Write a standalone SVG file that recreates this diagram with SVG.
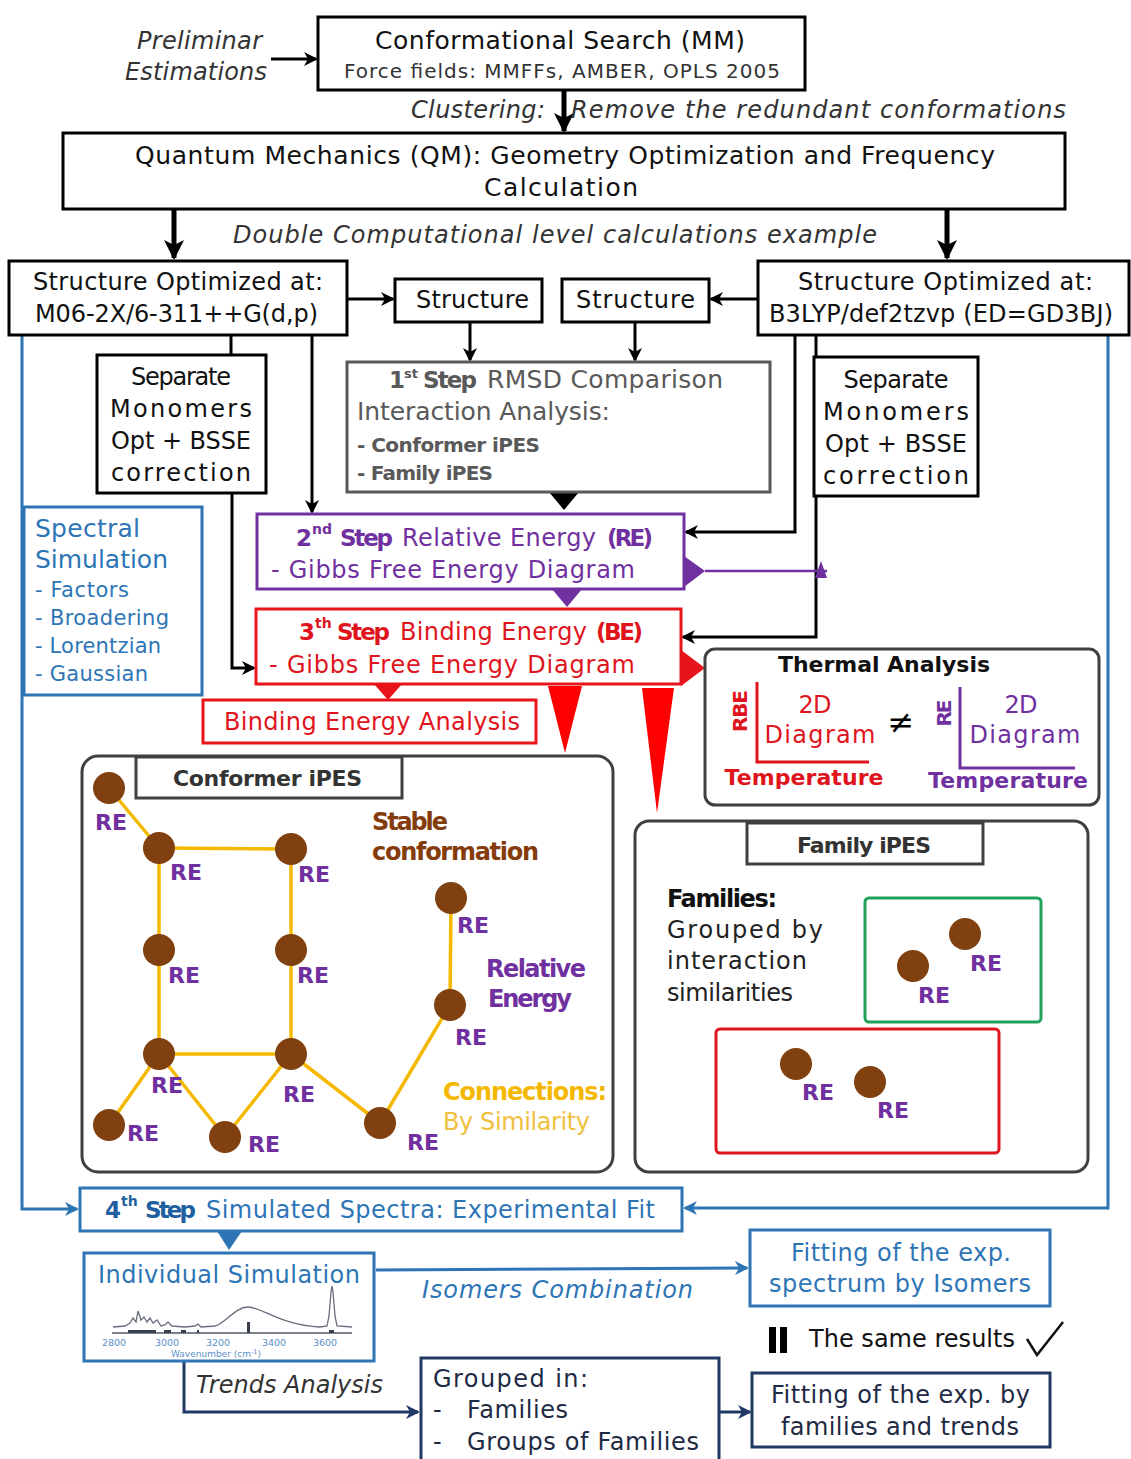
<svg xmlns="http://www.w3.org/2000/svg" width="1131" height="1459" viewBox="0 0 1131 1459">
<defs>
<style>
text{font-family:"DejaVu Sans","Liberation Sans",sans-serif;}
.i{font-style:italic;}
.b{font-weight:bold;}
.box{fill:#fff;stroke:#000;stroke-width:3;}
.k{fill:none;stroke:#000;stroke-width:3;}
.bl{fill:none;stroke:#2e75b6;stroke-width:3;}
.nv{fill:none;stroke:#1f3864;stroke-width:3;}
.edge{stroke:#f5b800;stroke-width:3.5;fill:none;}
.node{fill:#80400f;}
.re{fill:#7030a0;font-weight:bold;font-size:22px;}
.pu{fill:#7030a0;}
.rd{fill:#e0141c;}
.bt{fill:#2e75b6;}
.nt{fill:#1f2a44;}
.gt{fill:#595959;}
</style>
<marker id="ak" markerUnits="userSpaceOnUse" markerWidth="14" markerHeight="14" refX="12" refY="7" orient="auto"><path d="M0,0 L14,7 L0,14 L4,7 z" fill="#000"/></marker>
<marker id="akT" markerUnits="userSpaceOnUse" markerWidth="20" markerHeight="20" refX="18" refY="10" orient="auto"><path d="M0,0 L20,10 L0,20 L5,10 z" fill="#000"/></marker>
<marker id="ab" markerUnits="userSpaceOnUse" markerWidth="14" markerHeight="14" refX="12" refY="7" orient="auto"><path d="M0,0 L14,7 L0,14 L4,7 z" fill="#2e75b6"/></marker>
<marker id="an" markerUnits="userSpaceOnUse" markerWidth="14" markerHeight="14" refX="12" refY="7" orient="auto"><path d="M0,0 L14,7 L0,14 L4,7 z" fill="#1f3864"/></marker>
<marker id="abr" markerUnits="userSpaceOnUse" markerWidth="12" markerHeight="12" refX="10" refY="6" orient="auto"><path d="M0,0 L12,6 L0,12 L3,6 z" fill="#843c0c"/></marker>
<marker id="apu" markerUnits="userSpaceOnUse" markerWidth="12" markerHeight="12" refX="10" refY="6" orient="auto"><path d="M0,0 L12,6 L0,12 L3,6 z" fill="#7030a0"/></marker>
<marker id="ay" markerUnits="userSpaceOnUse" markerWidth="12" markerHeight="12" refX="10" refY="6" orient="auto"><path d="M0,0 L12,6 L0,12 L3,6 z" fill="#f5b800"/></marker>
</defs>
<rect width="1131" height="1459" fill="#fff"/>

<g id="connectors">
<path d="M271,59 H316" class="k" marker-end="url(#ak)"/>
<path d="M564,90 V131" fill="none" stroke="#000" stroke-width="5" marker-end="url(#akT)"/>
<path d="M174,209 V258" fill="none" stroke="#000" stroke-width="5" marker-end="url(#akT)"/>
<path d="M947,209 V258" fill="none" stroke="#000" stroke-width="5" marker-end="url(#akT)"/>
<path d="M347,299 H393" class="k" marker-end="url(#ak)"/>
<path d="M758,299 H711" class="k" marker-end="url(#ak)"/>
<path d="M470,322 V360" class="k" marker-end="url(#ak)"/>
<path d="M635,322 V360" class="k" marker-end="url(#ak)"/>
<path d="M231,335 V355" class="k"/>
<path d="M232,493 V668 H254" class="k" marker-end="url(#ak)"/>
<path d="M312,335 V512" class="k" marker-end="url(#ak)"/>
<path d="M795,335 V532 H686" class="k" marker-end="url(#ak)"/>
<path d="M816,335 V357" class="k"/>
<path d="M816,496 V637 H683" class="k" marker-end="url(#ak)"/>
<path d="M22,335 V1209 H77" class="bl" marker-end="url(#ab)"/>
<path d="M1108,335 V1208 H685" class="bl" marker-end="url(#ab)"/>
<path d="M376,1270 L747,1268" class="bl" marker-end="url(#ab)"/>
<path d="M184,1361 V1412 H418" class="nv" marker-end="url(#an)"/>
<path d="M719,1412 H750" class="nv" marker-end="url(#an)"/>
<path d="M705,571 H827" stroke="#7030a0" stroke-width="2.5" fill="none"/>
<polygon points="815,578 821,561 827,578" fill="#7030a0"/>
<path d="M366,829 L317,842" stroke="#843c0c" stroke-width="3" fill="none" marker-end="url(#abr)"/>
<path d="M484,981 L472,946" stroke="#7030a0" stroke-width="3" fill="none" marker-end="url(#apu)"/>
<path d="M433,1105 L414,1080" stroke="#f5b800" stroke-width="3" fill="none" marker-end="url(#ay)"/>
<path d="M804,904 L856,921" stroke="#000" stroke-width="3" fill="none" marker-end="url(#ak)"/>
<polygon points="549,492 579,492 564,510" fill="#000"/>
<polygon points="684,556 705,571 684,587" fill="#7030a0"/>
<polygon points="552,589 582,589 567,607" fill="#7030a0"/>
<polygon points="681,650 705,668 681,686" fill="#e8141c"/>
<polygon points="374,684 402,684 388,700" fill="#e8141c"/>
<polygon points="548,686 582,686 565,753" fill="#f00"/>
<polygon points="642,688 674,688 657,813" fill="#f00"/>
<polygon points="217,1231 242,1231 229,1250" fill="#2e75b6"/>
</g>

<g id="preliminar">
<text x="137" y="49" class="i" font-size="24" fill="#333" textLength="125">Preliminar</text>
<text x="125" y="80" class="i" font-size="24" fill="#333" textLength="142">Estimations</text>
</g>

<g id="conf-search">
<rect x="318" y="17" width="487" height="73" class="box" stroke-width="4"/>
<text x="375" y="49" font-size="25" fill="#111" textLength="370">Conformational Search (MM)</text>
<text x="344" y="78" font-size="20" fill="#333" textLength="436">Force fields: MMFFs, AMBER, OPLS 2005</text>
</g>

<g id="clustering">
<text x="411" y="118" class="i" font-size="24" fill="#333" textLength="134">Clustering:</text>
<text x="571" y="118" class="i" font-size="24" fill="#333" textLength="495">Remove the redundant conformations</text>
</g>

<g id="qm">
<rect x="63" y="133" width="1002" height="76" class="box" stroke-width="5"/>
<text x="135" y="164" font-size="25" fill="#111" textLength="860">Quantum Mechanics (QM): Geometry Optimization and Frequency</text>
<text x="484" y="196" font-size="25" fill="#111" textLength="154">Calculation</text>
</g>

<g id="double">
<text x="233" y="243" class="i" font-size="24" fill="#333" textLength="644">Double Computational level calculations example</text>
</g>

<g id="struct-left">
<rect x="9" y="261" width="338" height="74" class="box"/>
<text x="33" y="290" font-size="24" fill="#111" textLength="290">Structure Optimized at:</text>
<text x="35" y="322" font-size="24" fill="#111" textLength="283">M06-2X/6-311++G(d,p)</text>
</g>

<g id="structure1">
<rect x="395" y="279" width="147" height="43" class="box"/>
<text x="416" y="308" font-size="24" fill="#111" textLength="113">Structure</text>
</g>

<g id="structure2">
<rect x="562" y="279" width="147" height="43" class="box"/>
<text x="576" y="308" font-size="24" fill="#111" textLength="119">Structure</text>
</g>

<g id="struct-right">
<rect x="758" y="261" width="371" height="74" class="box"/>
<text x="798" y="290" font-size="24" fill="#111" textLength="295">Structure Optimized at:</text>
<text x="769" y="322" font-size="24" fill="#111" textLength="344">B3LYP/def2tzvp (ED=GD3BJ)</text>
</g>

<g id="sep-left">
<rect x="97" y="355" width="169" height="138" class="box"/>
<text x="181" y="385" font-size="24" fill="#111" text-anchor="middle" textLength="100">Separate</text>
<text x="181" y="417" font-size="24" fill="#111" text-anchor="middle" textLength="142">Monomers</text>
<text x="181" y="449" font-size="24" fill="#111" text-anchor="middle" textLength="140">Opt + BSSE</text>
<text x="181" y="481" font-size="24" fill="#111" text-anchor="middle" textLength="140">correction</text>
</g>

<g id="sep-right">
<rect x="814" y="357" width="164" height="139" class="box"/>
<text x="896" y="388" font-size="24" fill="#111" text-anchor="middle" textLength="105">Separate</text>
<text x="896" y="420" font-size="24" fill="#111" text-anchor="middle" textLength="146">Monomers</text>
<text x="896" y="452" font-size="24" fill="#111" text-anchor="middle" textLength="142">Opt + BSSE</text>
<text x="896" y="484" font-size="24" fill="#111" text-anchor="middle" textLength="146">correction</text>
</g>

<g id="step1">
<rect x="347" y="362" width="423" height="130" fill="#fff" stroke="#595959" stroke-width="3"/>
<text x="389" y="388" font-size="23" class="b gt">1</text>
<text x="404" y="378" font-size="13" class="b gt">st</text>
<text x="423" y="388" font-size="23" class="b gt" textLength="54">Step</text>
<text x="487" y="388" font-size="25" class="gt" textLength="236">RMSD Comparison</text>
<text x="357" y="420" font-size="25" class="gt" textLength="253">Interaction Analysis:</text>
<text x="357" y="452" font-size="20" class="b gt" textLength="183">- Conformer iPES</text>
<text x="357" y="480" font-size="20" class="b gt" textLength="136">- Family iPES</text>
</g>

<g id="step2">
<rect x="257" y="514" width="427" height="75" fill="#fff" stroke="#7030a0" stroke-width="3"/>
<text x="296" y="546" font-size="23" class="b pu">2</text>
<text x="312" y="534" font-size="14" class="b pu">nd</text>
<text x="340" y="546" font-size="23" class="b pu" textLength="53">Step</text>
<text x="402" y="546" font-size="24" class="pu" textLength="194">Relative Energy</text>
<text x="607" y="546" font-size="23" class="b pu" textLength="46">(RE)</text>
<text x="271" y="578" font-size="24" class="pu" textLength="364">- Gibbs Free Energy Diagram</text>
</g>

<g id="step3">
<rect x="256" y="609" width="425" height="75" fill="#fff" stroke="#e8141c" stroke-width="3"/>
<text x="299" y="640" font-size="23" class="b rd">3</text>
<text x="315" y="628" font-size="14" class="b rd">th</text>
<text x="337" y="640" font-size="23" class="b rd" textLength="53">Step</text>
<text x="400" y="640" font-size="24" class="rd" textLength="187">Binding Energy</text>
<text x="596" y="640" font-size="23" class="b rd" textLength="47">(BE)</text>
<text x="269" y="673" font-size="24" class="rd" textLength="366">- Gibbs Free Energy Diagram</text>
</g>

<g id="bea">
<rect x="203" y="700" width="333" height="43" fill="#fff" stroke="#e8141c" stroke-width="3"/>
<text x="224" y="730" font-size="24" class="rd" textLength="296">Binding Energy Analysis</text>
</g>

<g id="spectral">
<rect x="24" y="507" width="178" height="188" fill="#fff" stroke="#2e75b6" stroke-width="3"/>
<text x="35" y="537" font-size="25" class="bt" textLength="105">Spectral</text>
<text x="35" y="568" font-size="25" class="bt" textLength="133">Simulation</text>
<text x="35" y="597" font-size="21" class="bt" textLength="94">- Factors</text>
<text x="35" y="625" font-size="21" class="bt" textLength="134">- Broadering</text>
<text x="35" y="653" font-size="21" class="bt" textLength="126">- Lorentzian</text>
<text x="35" y="681" font-size="21" class="bt" textLength="113">- Gaussian</text>
</g>

<g id="thermal">
<rect x="705" y="649" width="394" height="156" rx="10" fill="#fff" stroke="#404040" stroke-width="3"/>
<text x="778" y="672" font-size="22" class="b" fill="#111" textLength="212">Thermal Analysis</text>
<path d="M757,682 V762 H869" fill="none" stroke="#e0141c" stroke-width="3"/>
<path d="M960,687 V768 H1075" fill="none" stroke="#7030a0" stroke-width="3"/>
<text transform="translate(747,711) rotate(-90)" text-anchor="middle" font-size="20" class="b rd" textLength="42">RBE</text>
<text transform="translate(951,713) rotate(-90)" text-anchor="middle" font-size="20" class="b pu" textLength="27">RE</text>
<text x="815" y="713" text-anchor="middle" font-size="24" class="rd" textLength="33">2D</text>
<text x="820" y="743" text-anchor="middle" font-size="24" class="rd" textLength="111">Diagram</text>
<text x="804" y="785" text-anchor="middle" font-size="22" class="b rd" textLength="159">Temperature</text>
<text x="901" y="733" text-anchor="middle" font-size="32" fill="#000">≠</text>
<text x="1021" y="713" text-anchor="middle" font-size="24" class="pu" textLength="33">2D</text>
<text x="1025" y="743" text-anchor="middle" font-size="24" class="pu" textLength="111">Diagram</text>
<text x="1008" y="788" text-anchor="middle" font-size="22" class="b pu" textLength="160">Temperature</text>
</g>

<g id="conformer-ipes">
<rect x="82" y="756" width="531" height="416" rx="16" fill="#fff" stroke="#404040" stroke-width="3"/>
<rect x="136" y="757" width="266" height="41" fill="#fff" stroke="#404040" stroke-width="3"/>
<text x="173" y="786" font-size="22" class="b" fill="#333" textLength="189">Conformer iPES</text>
<g id="edges">
<line x1="109" y1="788" x2="159" y2="848" class="edge"/>
<line x1="159" y1="848" x2="291" y2="849" class="edge"/>
<line x1="159" y1="848" x2="159" y2="950" class="edge"/>
<line x1="159" y1="950" x2="159" y2="1054" class="edge"/>
<line x1="291" y1="849" x2="291" y2="950" class="edge"/>
<line x1="291" y1="950" x2="291" y2="1054" class="edge"/>
<line x1="159" y1="1054" x2="291" y2="1054" class="edge"/>
<line x1="159" y1="1054" x2="109" y2="1125" class="edge"/>
<line x1="159" y1="1054" x2="225" y2="1137" class="edge"/>
<line x1="225" y1="1137" x2="291" y2="1054" class="edge"/>
<line x1="291" y1="1054" x2="380" y2="1123" class="edge"/>
<line x1="380" y1="1123" x2="450" y2="1005" class="edge"/>
<line x1="450" y1="1005" x2="451" y2="898" class="edge"/>
</g>
<circle cx="109" cy="788" r="16" class="node"/>
<circle cx="159" cy="848" r="16" class="node"/>
<circle cx="291" cy="849" r="16" class="node"/>
<circle cx="159" cy="950" r="16" class="node"/>
<circle cx="291" cy="950" r="16" class="node"/>
<circle cx="159" cy="1054" r="16" class="node"/>
<circle cx="291" cy="1054" r="16" class="node"/>
<circle cx="109" cy="1125" r="16" class="node"/>
<circle cx="225" cy="1137" r="16" class="node"/>
<circle cx="380" cy="1123" r="16" class="node"/>
<circle cx="451" cy="898" r="16" class="node"/>
<circle cx="450" cy="1005" r="16" class="node"/>
<text x="95" y="830" class="re">RE</text>
<text x="170" y="880" class="re">RE</text>
<text x="298" y="882" class="re">RE</text>
<text x="168" y="983" class="re">RE</text>
<text x="297" y="983" class="re">RE</text>
<text x="151" y="1093" class="re">RE</text>
<text x="283" y="1102" class="re">RE</text>
<text x="127" y="1141" class="re">RE</text>
<text x="248" y="1152" class="re">RE</text>
<text x="407" y="1150" class="re">RE</text>
<text x="457" y="933" class="re">RE</text>
<text x="455" y="1045" class="re">RE</text>
<text x="372" y="830" font-size="24" class="b" fill="#843c0c" textLength="76">Stable</text>
<text x="372" y="860" font-size="24" class="b" fill="#843c0c" textLength="167">conformation</text>
<text x="486" y="977" font-size="24" class="b pu" textLength="100">Relative</text>
<text x="488" y="1007" font-size="24" class="b pu" textLength="84">Energy</text>
<text x="443" y="1100" font-size="24" class="b" fill="#f5b800" textLength="164">Connections:</text>
<text x="443" y="1130" font-size="24" fill="#f0c040" textLength="147">By Similarity</text>
</g>

<g id="family-ipes">
<rect x="635" y="821" width="453" height="351" rx="14" fill="#fff" stroke="#404040" stroke-width="3"/>
<rect x="747" y="823" width="236" height="41" fill="#fff" stroke="#404040" stroke-width="3"/>
<text x="797" y="853" font-size="22" class="b" fill="#333" textLength="134">Family iPES</text>
<text x="667" y="907" font-size="24" class="b" fill="#111" textLength="110">Families:</text>
<text x="667" y="938" font-size="24" fill="#222" textLength="156">Grouped by</text>
<text x="667" y="969" font-size="24" fill="#222" textLength="140">interaction</text>
<text x="667" y="1001" font-size="24" fill="#222" textLength="126">similarities</text>
<rect x="865" y="898" width="176" height="124" rx="4" fill="none" stroke="#21a05a" stroke-width="3"/>
<rect x="716" y="1029" width="283" height="124" rx="4" fill="none" stroke="#e0141c" stroke-width="3"/>
<circle cx="965" cy="934" r="16" class="node"/>
<circle cx="913" cy="966" r="16" class="node"/>
<circle cx="796" cy="1064" r="16" class="node"/>
<circle cx="870" cy="1082" r="16" class="node"/>
<text x="970" y="971" class="re">RE</text>
<text x="918" y="1003" class="re">RE</text>
<text x="802" y="1100" class="re">RE</text>
<text x="877" y="1118" class="re">RE</text>
</g>

<g id="step4">
<rect x="80" y="1188" width="602" height="43" fill="#fff" stroke="#2e75b6" stroke-width="3"/>
<text x="105" y="1218" font-size="23" class="b" fill="#1f5f9f">4</text>
<text x="121" y="1206" font-size="14" class="b" fill="#1f5f9f">th</text>
<text x="145" y="1218" font-size="23" class="b" fill="#1f5f9f" textLength="51">Step</text>
<text x="206" y="1218" font-size="24" class="bt" textLength="449">Simulated Spectra: Experimental Fit</text>
</g>

<g id="individual">
<rect x="84" y="1253" width="290" height="108" fill="#fff" stroke="#2e75b6" stroke-width="3"/>
<text x="98" y="1283" font-size="24" class="bt" textLength="262">Individual Simulation</text>
<line x1="112" y1="1333" x2="352" y2="1333" stroke="#505868" stroke-width="1.5"/>
<path d="M113,1327 L125,1326 L130,1323 L133,1318 L136,1322 L138,1311 L141,1320 L144,1317 L147,1322 L150,1318 L153,1323 L157,1320 L161,1326 L165,1325 L168,1322 L172,1326 L185,1327 L195,1326 L198,1324 L201,1327 L215,1326 C225,1324 235,1307 248,1307 C262,1307 280,1325 320,1327 L327,1326 L329,1316 L331,1292 L332,1286 L333,1292 L335,1316 L337,1326 L352,1327" fill="none" stroke="#6a6e7c" stroke-width="1.3"/>
<rect x="247" y="1322" width="3" height="11" fill="#3a3f4f"/>
<rect x="128" y="1330" width="28" height="3" fill="#3a3f4f"/>
<rect x="164" y="1330" width="7" height="3" fill="#3a3f4f"/>
<rect x="181" y="1330" width="5" height="3" fill="#3a3f4f"/>
<rect x="197" y="1330" width="2" height="3" fill="#3a3f4f"/>
<rect x="329" y="1330" width="5" height="3" fill="#3a3f4f"/>
<text x="114" y="1346" font-size="9.5" fill="#5b8fc7" text-anchor="middle">2800</text>
<text x="167" y="1346" font-size="9.5" fill="#5b8fc7" text-anchor="middle">3000</text>
<text x="218" y="1346" font-size="9.5" fill="#5b8fc7" text-anchor="middle">3200</text>
<text x="274" y="1346" font-size="9.5" fill="#5b8fc7" text-anchor="middle">3400</text>
<text x="325" y="1346" font-size="9.5" fill="#5b8fc7" text-anchor="middle">3600</text>
<text x="216" y="1357" font-size="9" fill="#5b8fc7" text-anchor="middle">Wavenumber (cm<tspan font-size="6.5" dy="-3">-1</tspan><tspan dy="3">)</tspan></text>
</g>

<g id="isomers-label">
<text x="422" y="1298" class="i bt" font-size="24" textLength="271">Isomers Combination</text>
</g>

<g id="fitting1">
<rect x="750" y="1230" width="300" height="76" fill="#fff" stroke="#2e75b6" stroke-width="3"/>
<text x="791" y="1261" font-size="24" class="bt" textLength="220">Fitting of the exp.</text>
<text x="769" y="1292" font-size="24" class="bt" textLength="262">spectrum by Isomers</text>
</g>

<g id="same-results">
<rect x="769" y="1327" width="7" height="26" fill="#000"/>
<rect x="780" y="1327" width="7" height="26" fill="#000"/>
<text x="809" y="1347" font-size="24" fill="#111" textLength="206">The same results</text>
<path d="M1027,1339 L1037,1355 L1063,1322" fill="none" stroke="#111" stroke-width="2.5"/>
</g>

<g id="trends-label">
<text x="196" y="1393" class="i" font-size="24" fill="#333" textLength="187">Trends Analysis</text>
</g>

<g id="grouped">
<rect x="421" y="1358" width="298" height="110" fill="#fff" stroke="#1f3864" stroke-width="3"/>
<text x="433" y="1387" font-size="24" class="nt" textLength="155">Grouped in:</text>
<text x="433" y="1418" font-size="24" class="nt">-</text>
<text x="467" y="1418" font-size="24" class="nt" textLength="101">Families</text>
<text x="433" y="1450" font-size="24" class="nt">-</text>
<text x="467" y="1450" font-size="24" class="nt" textLength="232">Groups of Families</text>
</g>

<g id="fitting2">
<rect x="752" y="1373" width="298" height="74" fill="#fff" stroke="#1f3864" stroke-width="3"/>
<text x="771" y="1403" font-size="24" class="nt" textLength="259">Fitting of the exp. by</text>
<text x="781" y="1435" font-size="24" class="nt" textLength="238">families and trends</text>
</g>
</svg>
